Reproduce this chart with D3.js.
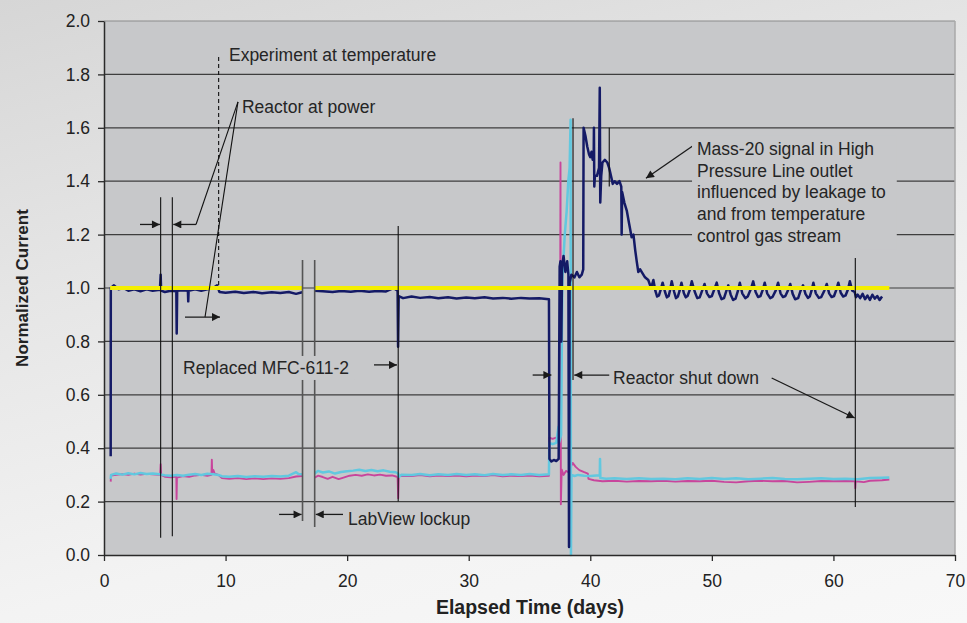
<!DOCTYPE html>
<html>
<head>
<meta charset="utf-8">
<script src="https://cdn.jsdelivr.net/npm/d3@7"></script>
<style>
  html, body { margin: 0; padding: 0; }
  body {
    width: 967px; height: 623px; overflow: hidden;
    background: linear-gradient(165deg, #d6d6d6 0%, #e6e6e6 35%, #f3f3f3 70%, #f8f8f8 100%);
    font-family: "Liberation Sans", Arial, sans-serif;
  }
</style>
</head>
<body>
<div id="chart"></div>
<script>
// Valeurs : [jour, courant normalisé], null = trou de données
const navyData = [
  [0.55,0.37],[0.56,1.0],[0.8,1.01],[1.2,0.995],[1.6,1.0],[2.0,0.99],[2.5,0.995],[3.0,0.988],[3.5,0.995],[4.0,0.99],
  [4.6,0.993],[4.66,1.05],[4.7,0.99],[5.0,0.985],[5.5,0.99],[5.95,0.988],[5.98,0.83],[6.02,0.99],[6.5,0.992],[6.9,0.99],
  [6.93,0.95],[6.96,0.99],[7.5,0.995],[8.0,0.99],[8.5,0.995],[9.0,1.0],[9.3,1.01],[9.5,0.985],[10.0,0.982],[10.8,0.986],
  [11.5,0.981],[12.3,0.985],[13.0,0.98],[13.8,0.984],[14.5,0.981],[15.2,0.985],[15.8,0.978],[16.3,0.984],
  [16.8,null],
  [17.33,0.99],[18.0,0.988],[18.8,0.985],[19.5,0.989],[20.3,0.986],[21.0,0.99],[21.8,0.986],[22.5,0.989],[23.2,0.987],
  [23.8,1.0],[24.15,0.99],[24.19,0.78],[24.24,0.97],[24.6,0.962],[25.3,0.968],[26.0,0.963],[26.8,0.966],[27.5,0.962],
  [28.3,0.965],[29.0,0.961],[29.8,0.964],[30.5,0.962],[31.3,0.965],[32.0,0.961],[32.8,0.963],[33.5,0.96],[34.3,0.963],
  [35.0,0.961],[35.8,0.962],[36.6,0.958],
  [36.64,0.36],[36.8,0.35],[37.0,0.356],[37.2,0.352],[37.4,0.36],[37.48,1.08],[37.55,1.1],[37.62,0.8],[37.68,1.08],
  [37.8,1.12],[37.95,1.06],[38.1,1.1],[38.2,1.05],[38.25,0.03],[38.3,1.02],[38.45,1.05],[38.7,1.04],[38.9,1.06],
  [39.1,1.04],[39.3,1.05],[39.42,1.07],
  [39.45,1.6],[39.6,1.57],[39.75,1.53],[39.9,1.5],[40.0,1.49],[40.1,1.51],[40.2,1.48],[40.28,1.49],[40.3,1.6],
  [40.33,1.38],[40.38,1.42],[40.55,1.42],[40.72,1.45],[40.78,1.75],[40.82,1.32],[40.9,1.42],[41.0,1.47],[41.2,1.48],
  [41.4,1.47],[41.55,1.45],[41.7,1.42],[41.85,1.39],[42.0,1.4],[42.2,1.39],[42.4,1.4],[42.55,1.38],[42.58,1.2],
  [42.62,1.36],[42.8,1.32],[43.0,1.29],[43.2,1.24],[43.4,1.19],[43.55,1.2],[43.7,1.14],[43.82,1.1],[43.95,1.06],
  [44.1,1.07],[44.3,1.055],[44.5,1.04],[44.77,1.03],[45.0,1.0],
  [45.19,1.03],[45.35,0.99],[45.5,0.968],[45.65,0.972],[45.8,0.995],
  [45.95,1.02],[46.15,0.985],[46.3,0.965],[46.45,0.97],[46.55,0.99],
  [46.7,1.025],[46.9,0.985],[47.05,0.962],[47.2,0.968],[47.35,0.99],
  [47.5,1.02],[47.7,0.98],[47.85,0.965],[48.0,0.97],[48.2,0.995],
  [48.35,1.025],[48.6,0.985],[48.8,0.962],[49.0,0.965],[49.2,0.99],
  [49.4,1.015],[49.6,0.98],[49.8,0.966],[50.0,0.97],[50.2,0.995],
  [50.4,1.02],[50.6,0.98],[50.8,0.958],[51.0,0.962],[51.2,0.99],
  [51.35,1.01],[51.55,0.975],[51.75,0.955],[51.95,0.96],[52.15,0.99],
  [52.3,1.02],[52.5,0.98],[52.75,0.962],[52.95,0.968],[53.2,0.995],
  [53.4,1.025],[53.6,0.985],[53.8,0.966],[54.0,0.97],[54.2,0.995],
  [54.35,1.02],[54.55,0.98],[54.8,0.962],[55.0,0.967],[55.25,0.99],
  [55.45,1.02],[55.65,0.98],[55.85,0.966],[56.05,0.97],[56.3,0.995],
  [56.45,1.015],[56.65,0.978],[56.85,0.958],[57.1,0.962],[57.3,0.99],
  [57.5,1.01],[57.7,0.978],[57.9,0.963],[58.05,0.968],[58.2,0.99],
  [58.35,1.02],[58.55,0.98],[58.8,0.963],[59.0,0.966],[59.25,0.99],
  [59.45,1.015],[59.65,0.98],[59.85,0.966],[60.05,0.97],[60.25,0.995],
  [60.4,1.02],[60.6,0.982],[60.8,0.968],[61.0,0.972],[61.2,0.995],
  [61.35,1.025],[61.55,0.99],[61.75,0.985],[61.85,0.965],
  [62.0,0.975],[62.2,0.962],[62.4,0.978],[62.6,0.958],[62.8,0.972],[63.0,0.955],[63.2,0.975],[63.4,0.96],
  [63.6,0.97],[63.8,0.955],[64.0,0.968]
];

const cyanData = [
  [0.55,0.285],[0.58,0.3],[1.0,0.305],[1.5,0.301],[2.0,0.306],[2.5,0.302],[3.0,0.307],[3.5,0.303],[4.0,0.305],
  [4.6,0.302],[5.0,0.299],[5.5,0.297],[6.0,0.3],[6.5,0.297],[7.0,0.301],[7.5,0.303],[8.0,0.3],[8.5,0.304],[9.0,0.302],
  [9.4,0.3],[9.7,0.295],[10.3,0.293],[11.0,0.296],[11.7,0.292],[12.4,0.295],[13.1,0.293],[13.8,0.296],[14.5,0.294],
  [15.2,0.297],[15.8,0.31],[16.0,0.303],[16.3,0.302],
  [16.8,null],
  [17.33,0.305],[17.6,0.315],[18.0,0.309],[18.5,0.313],[19.0,0.305],[19.5,0.311],[20.0,0.314],[20.5,0.316],
  [21.0,0.319],[21.5,0.315],[22.0,0.318],[22.5,0.314],[23.0,0.317],[23.5,0.312],[24.0,0.31],[24.2,0.305],
  [24.25,0.293],[24.5,0.301],[25.3,0.3],[26.0,0.303],[26.8,0.299],[27.5,0.302],[28.3,0.3],[29.0,0.303],[29.8,0.3],
  [30.5,0.302],[31.3,0.299],[32.0,0.303],[32.8,0.3],[33.5,0.302],[34.3,0.3],[35.0,0.303],[35.8,0.3],[36.6,0.302],
  [36.63,0.42],[36.9,0.415],[37.2,0.42],[37.38,0.48],[37.42,0.42],[37.6,0.45],[37.7,1.03],[37.9,1.2],[38.06,1.29],
  [38.19,1.4],[38.3,1.45],[38.38,1.63],[38.41,0.0],[38.45,0.3],[38.7,0.296],[39.0,0.3],[39.5,0.297],[40.0,0.296],
  [40.5,0.298],[40.78,0.298],[40.8,0.36],[40.83,0.288],[41.3,0.286],[42.0,0.287],[43.0,0.285],[44.0,0.287],
  [45.0,0.285],[46.0,0.286],[47.0,0.284],[48.0,0.287],[49.0,0.285],[50.0,0.288],[51.0,0.285],[52.0,0.287],
  [53.0,0.284],[54.0,0.286],[55.0,0.288],[56.0,0.285],[57.0,0.284],[58.0,0.286],[59.0,0.287],[60.0,0.285],
  [61.0,0.286],[62.0,0.284],[63.0,0.288],[64.0,0.289],[64.6,0.29]
];

const magentaData = [
  [0.55,0.275],[0.58,0.298],[1.0,0.3],[1.5,0.303],[2.0,0.3],[2.5,0.305],[3.0,0.301],[3.5,0.304],[4.0,0.302],
  [4.62,0.3],[4.66,0.34],[4.7,0.3],[5.0,0.293],[5.5,0.291],[5.95,0.294],[5.97,0.21],[6.0,0.29],[6.5,0.296],
  [7.0,0.293],[7.5,0.298],[8.0,0.3],[8.5,0.297],[8.84,0.3],[8.87,0.357],[8.9,0.31],[9.0,0.318],[9.1,0.305],
  [9.4,0.3],[9.7,0.288],[10.3,0.285],[11.0,0.288],[11.7,0.284],[12.4,0.287],[13.1,0.284],[13.8,0.287],[14.5,0.285],
  [15.2,0.288],[15.8,0.294],[16.3,0.296],
  [16.8,null],
  [17.33,0.29],[17.6,0.297],[18.0,0.292],[18.4,0.285],[18.8,0.293],[19.3,0.284],[19.7,0.29],[20.2,0.297],
  [20.7,0.3],[21.2,0.297],[21.7,0.302],[22.2,0.298],[22.7,0.301],[23.2,0.297],[23.7,0.298],[24.15,0.292],
  [24.2,0.213],[24.25,0.295],[24.6,0.297],[25.3,0.296],[26.0,0.299],[26.8,0.295],[27.5,0.298],[28.3,0.296],
  [29.0,0.298],[29.8,0.295],[30.5,0.298],[31.3,0.296],[32.0,0.299],[32.8,0.295],[33.5,0.297],[34.3,0.296],
  [35.0,0.298],[35.8,0.295],[36.6,0.297],
  [36.63,0.44],[36.9,0.435],[37.2,0.44],[37.5,0.45],[37.55,1.47],[37.58,0.19],[37.65,0.32],[37.8,0.3],[38.0,0.315],
  [38.2,0.31],[38.4,0.33],[38.55,0.345],[38.8,0.33],[39.1,0.318],[39.5,0.31],[39.8,0.305],[39.85,0.285],[40.3,0.28],
  [41.0,0.276],[42.0,0.278],[43.0,0.275],[44.0,0.277],[45.0,0.276],[46.0,0.278],[47.0,0.275],[48.0,0.277],
  [49.0,0.276],[50.0,0.278],[51.0,0.274],[52.0,0.272],[53.0,0.276],[54.0,0.278],[55.0,0.276],[56.0,0.277],
  [57.0,0.272],[58.0,0.274],[59.0,0.277],[60.0,0.276],[61.0,0.277],[61.78,0.276],[61.8,0.25],[61.83,0.276],
  [62.5,0.273],[63.0,0.278],[64.0,0.28],[64.6,0.283]
];

// Référence à 1.0
const yellowData = [[0.5,1.0],[16.3,1.0],[16.8,null],[17.33,1.0],[64.6,1.0]];

// Graduations
const xTicks = [0, 10, 20, 30, 40, 50, 60, 70];
const yTicks = [0.0, 0.2, 0.4, 0.6, 0.8, 1.0, 1.2, 1.4, 1.6, 1.8, 2.0];

// Annotations (en unités du graphique)
const markerLines = [[4.66,1.34,0.065],[5.62,1.34,0.07],[24.2,1.232,0.2],[38.58,1.636,0.655],[61.8,1.112,0.18],[41.56,1.6,1.38]];
const lockupLines = [[16.33,1.105,0.127],[17.33,1.105,0.105]];
const leaderLines = [[7.57,1.238,11.02,1.697],[11.02,1.697,8.31,0.891]];
const arrowLines = [
  [2.96,1.238,4.6,1.238],[7.57,1.238,5.7,1.238],[6.66,0.891,9.54,0.891],[22.21,0.712,24.1,0.712],
  [14.4,0.152,16.25,0.152],[19.66,0.152,17.42,0.152],[35.26,0.674,36.8,0.674],[41.56,0.674,38.68,0.674],
  [54.92,0.663,61.75,0.513],[48.42,1.532,44.58,1.411]
];
const dashedLine = [9.43, 1.865, 1.011];
const labels = [
  ['Experiment at temperature', 10.28, 1.85],
  ['Reactor at power', 11.35, 1.655],
  ['LabView lockup', 20.07, 0.112],
  ['Reactor shut down', 41.87, 0.64]
];
const mfcLabel = ['Replaced MFC-611-2', 6.5, 0.678];
const massLines = ['Mass-20 signal in High', 'Pressure Line outlet', 'influenced by leakage to', 'and from temperature', 'control gas stream'];
const massPos = [48.78, 1.498];

function drawChart() {
  const width = 967, height = 623;
  const margin = { top: 21, right: 12, bottom: 68, left: 104 };

  const svg = d3.select('#chart').append('svg')
    .attr('width', width)
    .attr('height', height)
    .style('font-family', '"Liberation Sans", Arial, sans-serif');

  const x = d3.scaleLinear().domain([0, 70]).range([margin.left, width - margin.right]);
  const y = d3.scaleLinear().domain([0, 2]).range([height - margin.bottom, margin.top]);

  // Pointe de flèche
  svg.append('defs').append('marker')
    .attr('id', 'arrowHead')
    .attr('viewBox', '0 0 10 10')
    .attr('refX', 10).attr('refY', 5)
    .attr('markerWidth', 10).attr('markerHeight', 8)
    .attr('markerUnits', 'userSpaceOnUse')
    .attr('orient', 'auto')
    .append('path').attr('d', 'M0,0L10,5L0,10Z').attr('fill', '#1a1a1a');

  // Zone du graphique
  svg.append('rect')
    .attr('x', x(0)).attr('y', y(2))
    .attr('width', x(70) - x(0)).attr('height', y(0) - y(2))
    .attr('fill', '#c7c8ca');

  // Lignes de grille
  svg.append('g').selectAll('line')
    .data(yTicks.filter(d => d > 0 && d < 2))
    .enter().append('line')
    .attr('x1', x(0)).attr('x2', x(70))
    .attr('y1', d => y(d)).attr('y2', d => y(d))
    .attr('stroke', '#3e3e3e').attr('stroke-width', 1.2);

  // bordures haut / droite plus claires
  svg.append('line').attr('x1', x(0)).attr('x2', x(70)).attr('y1', y(2)).attr('y2', y(2))
    .attr('stroke', '#8c8c8c').attr('stroke-width', 1.2);
  svg.append('line').attr('x1', x(70)).attr('x2', x(70)).attr('y1', y(2)).attr('y2', y(0))
    .attr('stroke', '#a8a8a8').attr('stroke-width', 1.5);

  // Séries
  const line = d3.line()
    .defined(d => d[1] !== null)
    .x(d => x(d[0]))
    .y(d => y(d[1]));

  const series = [
    [magentaData, '#c8459c', 1.9],
    [cyanData, '#62c8df', 2.5],
    [navyData, '#141a66', 2.5],
    [yellowData, '#f4ef00', 4.2]
  ];
  svg.append('g').selectAll('path')
    .data(series)
    .enter().append('path')
    .attr('d', d => line(d[0]))
    .attr('fill', 'none')
    .attr('stroke', d => d[1])
    .attr('stroke-width', d => d[2])
    .attr('stroke-linejoin', 'round');

  // Annotations
  const ann = svg.append('g');
  ann.selectAll('.marker')
    .data(markerLines)
    .enter().append('line')
    .attr('x1', d => x(d[0])).attr('x2', d => x(d[0]))
    .attr('y1', d => y(d[1])).attr('y2', d => y(d[2]))
    .attr('stroke', '#111').attr('stroke-width', 1.1);
  ann.selectAll('.lockup')
    .data(lockupLines)
    .enter().append('line')
    .attr('x1', d => x(d[0])).attr('x2', d => x(d[0]))
    .attr('y1', d => y(d[1])).attr('y2', d => y(d[2]))
    .attr('stroke', '#555').attr('stroke-width', 1.6);
  ann.selectAll('.leader')
    .data(leaderLines)
    .enter().append('line')
    .attr('x1', d => x(d[0])).attr('y1', d => y(d[1]))
    .attr('x2', d => x(d[2])).attr('y2', d => y(d[3]))
    .attr('stroke', '#111').attr('stroke-width', 1.1);
  ann.selectAll('.arrow')
    .data(arrowLines)
    .enter().append('line')
    .attr('x1', d => x(d[0])).attr('y1', d => y(d[1]))
    .attr('x2', d => x(d[2])).attr('y2', d => y(d[3]))
    .attr('stroke', '#1a1a1a').attr('stroke-width', 1.3)
    .attr('marker-end', 'url(#arrowHead)');
  ann.append('line')
    .attr('x1', x(dashedLine[0])).attr('x2', x(dashedLine[0]))
    .attr('y1', y(dashedLine[1])).attr('y2', y(dashedLine[2]))
    .attr('stroke', '#111').attr('stroke-width', 1.1)
    .attr('stroke-dasharray', '4,3');

  const fontSize = 17.5;
  ann.selectAll('.label')
    .data(labels)
    .enter().append('text')
    .attr('x', d => x(d[1])).attr('y', d => y(d[2]))
    .attr('font-size', fontSize).attr('fill', '#252525')
    .text(d => d[0]);

  // texte avec fond (cache les lignes derrière)
  const mfc = ann.append('g');
  const mfcText = mfc.append('text')
    .attr('x', x(mfcLabel[1])).attr('y', y(mfcLabel[2]))
    .attr('font-size', fontSize).attr('fill', '#252525')
    .text(mfcLabel[0]);
  const b1 = mfcText.node().getBBox();
  mfc.insert('rect', 'text')
    .attr('x', b1.x - 5).attr('y', b1.y - 2)
    .attr('width', b1.width + 10).attr('height', b1.height + 4)
    .attr('fill', '#c7c8ca');

  const mass = ann.append('g');
  const massText = mass.append('text')
    .attr('font-size', fontSize).attr('fill', '#252525');
  massText.selectAll('tspan')
    .data(massLines)
    .enter().append('tspan')
    .attr('x', x(massPos[0]))
    .attr('y', (d, i) => y(massPos[1]) + i * 21.7)
    .text(d => d);
  const b2 = massText.node().getBBox();
  mass.insert('rect', 'text')
    .attr('x', b2.x - 5).attr('y', b2.y - 4)
    .attr('width', b2.width + 16).attr('height', b2.height + 8)
    .attr('fill', '#c7c8ca');

  // Axes
  const yAxis = svg.append('g')
    .attr('transform', `translate(${x(0)},0)`)
    .call(d3.axisLeft(y).tickValues(yTicks).tickFormat(d3.format('.1f')).tickSize(6).tickPadding(8).tickSizeOuter(0));
  const xAxis = svg.append('g')
    .attr('transform', `translate(0,${y(0)})`)
    .call(d3.axisBottom(x).tickValues(xTicks).tickSize(6).tickPadding(14).tickSizeOuter(0));
  [yAxis, xAxis].forEach(a => {
    a.select('.domain').attr('stroke', '#2a2a2a').attr('stroke-width', 1.5);
    a.selectAll('.tick line').attr('stroke', '#2a2a2a').attr('stroke-width', 1.3);
    a.selectAll('.tick text')
      .attr('font-size', 17.5)
      .attr('font-family', '"Liberation Sans", Arial, sans-serif')
      .attr('fill', '#222');
  });
  xAxis.select('.domain').attr('d', `M${x(0)},0.5H${x(70)}`);

  // Titres des axes
  svg.append('text')
    .attr('x', 530).attr('y', 614)
    .attr('text-anchor', 'middle')
    .attr('font-size', 19.5).attr('font-weight', 'bold').attr('fill', '#222')
    .text('Elapsed Time (days)');
  svg.append('text')
    .attr('transform', `translate(28,${(y(0) + y(2)) / 2}) rotate(-90)`)
    .attr('text-anchor', 'middle')
    .attr('font-size', 17).attr('font-weight', 'bold').attr('fill', '#222')
    .text('Normalized Current');
}

drawChart();
</script>
</body>
</html>
